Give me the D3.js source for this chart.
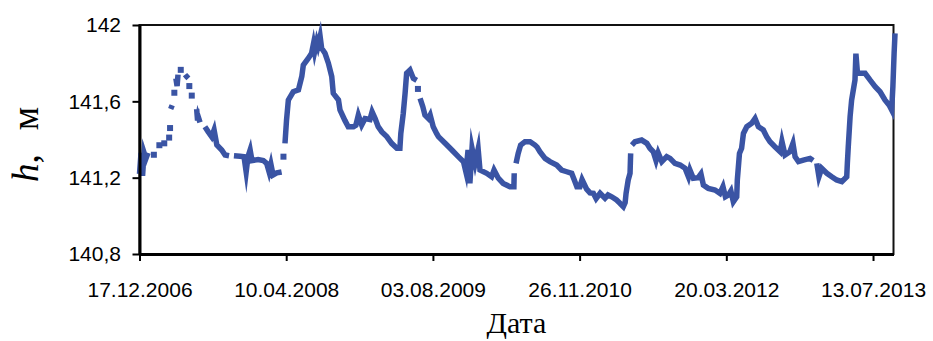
<!DOCTYPE html>
<html>
<head>
<meta charset="utf-8">
<script src="https://cdn.jsdelivr.net/npm/d3@7"></script>
<style>
  html, body { margin: 0; padding: 0; background: #fff; }
  svg { display: block; }
</style>
</head>
<body>
<svg id="chart" width="933" height="341"></svg>
<script>
// Water level h (m) by date; dates are spreadsheet day serials, null marks a gap in the record
const daySerials = [
  39068, 39073, 39078, 39083, 39089, 39096, 39105, 39115, 39124, 39133,
  39141, 39149, 39157, 39165, 39167, 39168, 39169, 39170, 39175, 39178,
  39182, 39184, 39187, 39191, 39194, 39198, 39203, 39210, 39217, 39222,
  39228, 39229, 39231, 39235, 39239, 39247, 39255, 39258, 39260, 39266,
  39274, 39282, 39293, 39304, 39312, 39321, 39337, 39348, 39361, 39369,
  39377, 39397, 39410, 39417, 39423, 39430, 39436, 39456, 39473, 39484,
  39492, 39498, 39505, 39517, 39533, 39536, 39539, 39541, 39544, 39549,
  39555, 39571, 39588, 39599, 39604, 39620, 39631, 39637, 39641, 39648,
  39652, 39659, 39664, 39675, 39686, 39697, 39702, 39719, 39724, 39740,
  39751, 39768, 39776, 39784, 39795, 39806, 39822, 39829, 39839, 39849,
  39861, 39877, 39893, 39910, 39920, 39923, 39931, 39937, 39942, 39953,
  39964, 39975, 39977, 39979, 39982, 39986, 39995, 40002, 40013, 40019,
  40029, 40040, 40046, 40068, 40090, 40111, 40128, 40136, 40143, 40149,
  40156, 40166, 40176, 40182, 40204, 40220, 40228, 40242, 40258, 40280,
  40293, 40294, 40297, 40300, 40307, 40315, 40329, 40346, 40362, 40369,
  40378, 40395, 40411, 40433, 40449, 40466, 40482, 40490, 40499, 40509,
  40516, 40531, 40542, 40553, 40562, 40575, 40591, 40601, 40613, 40629,
  40640, 40651, 40657, 40660, 40667, 40673, 40675, 40677, 40679, 40689,
  40711, 40728, 40738, 40749, 40758, 40765, 40777, 40793, 40804, 40820,
  40837, 40853, 40864, 40869, 40880, 40896, 40905, 40913, 40929, 40951,
  40967, 40977, 40985, 40995, 41003, 41011, 41022, 41024, 41031, 41038,
  41044, 41055, 41071, 41082, 41093, 41109, 41120, 41131, 41147, 41164,
  41170, 41180, 41196, 41206, 41213, 41224, 41240, 41262, 41272, 41278,
  41284, 41291, 41300, 41317, 41333, 41349, 41366, 41382, 41384, 41387,
  41393, 41398, 41409, 41412, 41417, 41426, 41442, 41458, 41475, 41491,
  41507, 41521, 41529, 41533, 41537, 41540
];
const levels = [
  141.22, 141.33, 141.21, 141.33, 141.30, 141.33, null, 141.32, null, 141.37,
  null, 141.38, null, 141.41, null, 141.46, null, 141.56, 141.58, null,
  141.645, null, 141.72, 141.68, 141.74, null, 141.765, null, 141.74, 141.73,
  141.72, null, 141.68, null, 141.63, null, 141.56, 141.50, 141.52, 141.49,
  null, 141.467, 141.44, 141.415, 141.45, 141.371, 141.345, 141.319, 141.315, null,
  141.315, 141.312, 141.31, 141.23, 141.31, 141.345, 141.29, 141.295, 141.29, 141.275,
  141.23, 141.27, 141.214, 141.225, 141.23, null, 141.31, null, 141.38, 141.50,
  141.607, 141.65, 141.66, 141.73, 141.79, 141.825, 141.852, 141.90, 141.86, 141.913,
  141.89, 141.94, 141.878, 141.852, 141.80, 141.73, 141.642, 141.607, 141.555, 141.50,
  141.467, 141.467, 141.475, 141.528, 141.476, 141.51, 141.505, 141.545, 141.51, 141.467,
  141.44, 141.415, 141.38, 141.354, 141.354, 141.432, 141.537, 141.642, 141.747, 141.764,
  141.72, 141.71, null, 141.665, null, 141.616, 141.572, 141.528, 141.51, 141.528,
  141.467, 141.432, 141.415, 141.38, 141.345, 141.31, 141.284, 141.23, 141.345, 141.17,
  141.354, 141.275, 141.35, 141.24, 141.223, 141.205, 141.24, 141.197, 141.17, 141.153,
  141.153, 141.223, null, 141.275, 141.327, 141.371, 141.388, 141.388, 141.371, 141.36,
  141.336, 141.301, 141.284, 141.266, 141.24, 141.231, 141.223, 141.19, 141.153, 141.153,
  141.19, 141.14, 141.12, 141.118, 141.09, 141.118, 141.092, 141.11, 141.10, 141.083,
  141.066, 141.048, 141.07, 141.118, 141.188, 141.223, 141.327, null, 141.371, 141.388,
  141.397, 141.38, 141.354, 141.336, 141.29, 141.33, 141.284, 141.31, 141.301, 141.275,
  141.266, 141.249, 141.205, 141.24, 141.197, 141.20, 141.22, 141.161, 141.144, 141.135,
  141.118, 141.153, 141.10, 141.109, 141.13, 141.074, 141.10, 141.188, 141.327, 141.354,
  141.432, 141.467, 141.485, 141.51, 141.467, 141.45, 141.415, 141.388, 141.362, 141.336,
  141.39, 141.319, 141.336, 141.38, 141.31, 141.284, 141.292, 141.301, 141.29, null,
  141.275, 141.205, 141.249, 141.223, 141.205, 141.188, 141.179, 141.205, 141.275, 141.362,
  141.52, 141.607, 141.712, 141.85, 141.75, 141.747, 141.747, 141.712, 141.677, 141.65,
  141.607, 141.58, 141.555, 141.677, 141.852, 141.956
];

// Axis settings
const xDomainSerials = [39068, 41535];
const xTickSerials = [39068, 39548, 40028, 40508, 40988, 41468];
const yDomain = [140.8, 142];
const yTickValues = [140.8, 141.2, 141.6, 142];
const xTitle = "Дата";

// spreadsheet day serial -> Date (UTC)
const serialToDate = s => new Date(Date.UTC(1899, 11, 30) + s * 864e5);

const data = daySerials.map((s, i) => ({ date: serialToDate(s), h: levels[i] }));

const margin = { left: 139.5, right: 893.5, top: 25, bottom: 254 };

const svg = d3.select("#chart");

const x = d3.scaleUtc()
  .domain(xDomainSerials.map(serialToDate))
  .range([margin.left, margin.right]);

const y = d3.scaleLinear()
  .domain(yDomain)
  .range([margin.bottom, margin.top]);

const ruLocale = d3.formatLocale({ decimal: ",", thousands: " ", grouping: [3], currency: ["", ""] });
const yFmt = ruLocale.format("~g");
const xFmt = d3.utcFormat("%d.%m.%Y");

// plot frame (top and right edges)
svg.append("rect")
  .attr("x", margin.left)
  .attr("y", margin.top)
  .attr("width", margin.right - margin.left)
  .attr("height", margin.bottom - margin.top)
  .attr("fill", "none")
  .attr("stroke", "#111")
  .attr("stroke-width", 2);

// series line
const lineColor = "#3A54A4";
const line = d3.line()
  .defined(d => d.h != null)
  .x(d => x(d.date))
  .y(d => y(d.h));

svg.append("path")
  .datum(data)
  .attr("d", line)
  .attr("fill", "none")
  .attr("stroke", lineColor)
  .attr("stroke-width", 5.5)
  .attr("stroke-linejoin", "miter")
  .attr("stroke-miterlimit", 8);

// isolated readings (no neighbour on either side) shown as square dots
const isolated = data.filter((d, i) =>
  d.h != null &&
  (i === 0 || data[i - 1].h == null) &&
  (i === data.length - 1 || data[i + 1].h == null));

svg.append("g")
  .selectAll("rect")
  .data(isolated)
  .join("rect")
  .attr("x", d => x(d.date) - 3)
  .attr("y", d => y(d.h) - 3)
  .attr("width", 6)
  .attr("height", 6)
  .attr("fill", lineColor);

// axes
const yAxis = svg.append("g")
  .attr("transform", `translate(${margin.left},0)`)
  .call(d3.axisLeft(y).tickValues(yTickValues).tickFormat(yFmt).tickSize(7).tickPadding(11.5).tickSizeOuter(0));

const xAxis = svg.append("g")
  .attr("transform", `translate(0,${margin.bottom})`)
  .call(d3.axisBottom(x).tickValues(xTickSerials.map(serialToDate)).tickFormat(xFmt).tickSize(7).tickSizeOuter(0));

[yAxis, xAxis].forEach(g => {
  g.select(".domain").attr("stroke", "#000").attr("stroke-width", 3);
  g.selectAll(".tick line").attr("stroke", "#000").attr("stroke-width", 2);
  g.selectAll(".tick text")
    .attr("fill", "#000")
    .style("font-family", "'Liberation Sans', Arial, sans-serif")
    .style("font-size", "21px");
});
xAxis.selectAll(".tick text").attr("y", 43).attr("dy", 0);

// axis titles
svg.append("text")
  .attr("x", (margin.left + margin.right) / 2)
  .attr("y", 333)
  .attr("text-anchor", "middle")
  .style("font-family", "'Liberation Serif', 'Times New Roman', serif")
  .style("font-size", "30px")
  .attr("fill", "#000")
  .text(xTitle);

const yt = svg.append("text")
  .attr("transform", "translate(38,182) rotate(-90)")
  .attr("text-anchor", "start")
  .style("font-family", "'Liberation Serif', 'Times New Roman', serif")
  .style("font-size", "37px")
  .attr("fill", "#000");
yt.append("tspan").style("font-style", "italic").text("h");
yt.append("tspan").text(",");
yt.append("tspan").attr("dx", 24).text("м");
</script>
</body>
</html>
